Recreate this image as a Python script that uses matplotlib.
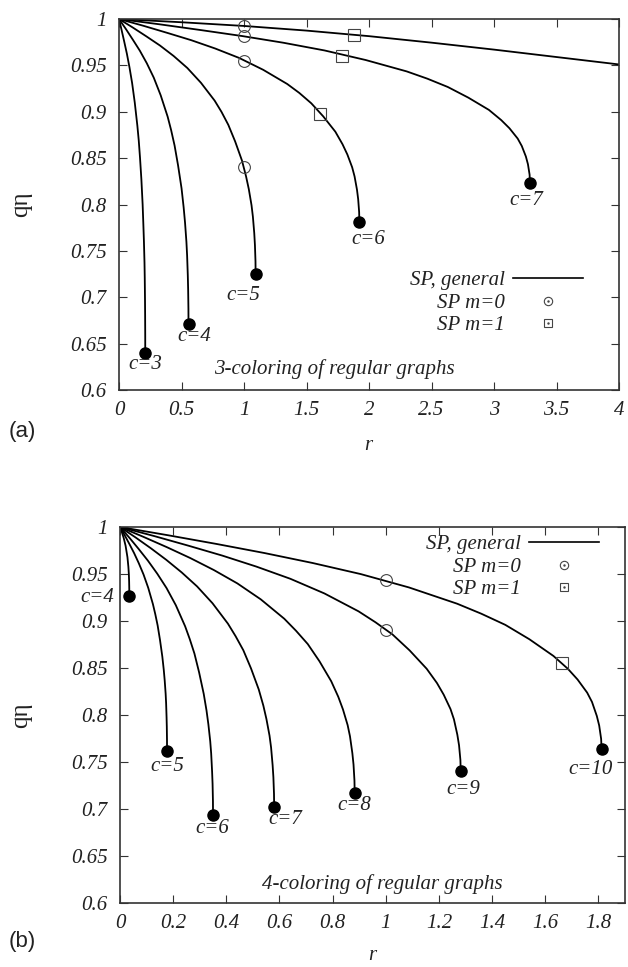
import matplotlib
matplotlib.use("Agg")
import matplotlib.pyplot as plt
from matplotlib.lines import Line2D
from matplotlib.ticker import FixedLocator, FuncFormatter

plt.rcParams['font.family'] = ['Liberation Serif', 'DejaVu Serif']
plt.rcParams['font.style'] = 'italic'

DPI = 100
PX = 72.0 / DPI  # points per pixel

# ---- (a) 3-coloring: SP curves eta(r) for each connectivity c ----
a_c = [3, 4, 5, 6, 7]
a_r = [
    [0, 0.021, 0.042, 0.063, 0.084, 0.105, 0.126, 0.147, 0.158, 0.168, 0.179, 0.189, 0.195, 0.1995,
     0.204, 0.206, 0.208, 0.209, 0.2098, 0.21],
    [0, 0.0556, 0.1112, 0.1668, 0.2224, 0.278, 0.3336, 0.3892, 0.417, 0.4448, 0.4726, 0.5004, 0.5171,
     0.5282, 0.5393, 0.5449, 0.5504, 0.5532, 0.5554, 0.556],
    [0, 0.1093, 0.2186, 0.3279, 0.4372, 0.5465, 0.6558, 0.7651, 0.8198, 0.8744, 0.9291, 0.9837, 1.0165,
     1.0384, 1.0602, 1.0711, 1.0821, 1.0875, 1.0919, 1.093],
    [0, 0.1923, 0.3846, 0.5769, 0.7692, 0.9615, 1.1538, 1.3461, 1.4423, 1.5384, 1.6346, 1.7307, 1.7884,
     1.8269, 1.8653, 1.8845, 1.9038, 1.9134, 1.9211, 1.923],
    [0, 0.3288, 0.6576, 0.9864, 1.3152, 1.644, 1.9728, 2.3016, 2.466, 2.6304, 2.7948, 2.9592, 3.0578,
     3.1236, 3.1894, 3.2222, 3.2551, 3.2716, 3.2847, 3.288],
]
a_eta = [
    [1, 0.988, 0.9755, 0.9626, 0.9478, 0.9309, 0.910, 0.8848, 0.869, 0.8506, 0.8272, 0.8002, 0.7779,
     0.7599, 0.7372, 0.721, 0.6976, 0.6807, 0.658, 0.640],
    [1, 0.9891, 0.9776, 0.9658, 0.9523, 0.9368, 0.9177, 0.8947, 0.8802, 0.8635, 0.8421, 0.8174, 0.797,
     0.7806, 0.7598, 0.745, 0.7236, 0.7082, 0.6874, 0.671],
    [1, 0.9909, 0.9813, 0.9714, 0.9601, 0.9472, 0.9312, 0.912, 0.8999, 0.8859, 0.868, 0.8474, 0.8303,
     0.8166, 0.7992, 0.7869, 0.769, 0.7561, 0.7387, 0.725],
    [1, 0.9928, 0.9851, 0.9772, 0.9682, 0.958, 0.9452, 0.9299, 0.9203, 0.9091, 0.8949, 0.8785, 0.8649,
     0.8539, 0.8401, 0.8303, 0.816, 0.8057, 0.7919, 0.781],
    [1, 0.9942, 0.988, 0.9816, 0.9744, 0.9661, 0.9558, 0.9435, 0.9357, 0.9267, 0.9152, 0.902, 0.891,
     0.8822, 0.8711, 0.8631, 0.8517, 0.8434, 0.8322, 0.8234],
]
# c=8 curve leaves the window before its end point
a_top_r = [0, 0.5, 1, 1.5, 2, 2.5, 3, 3.5, 4]
a_top_eta = [1, 0.9965, 0.9925, 0.9875, 0.9815, 0.9745, 0.967, 0.959, 0.951]
a_m0_r = [1, 1, 1, 1]
a_m0_eta = [0.9925, 0.9817, 0.9548, 0.840]
a_m1_r = [1.883, 1.787, 1.608]
a_m1_eta = [0.9828, 0.9605, 0.898]
a_label_off = [(0, 12), (6, 12), (-12, 21), (9, 17), (-4, 18)]  # pixels, down is positive

# ---- (b) 4-coloring ----
b_c = [4, 5, 6, 7, 8, 9, 10]
b_r = [
    [0, 0.007, 0.014, 0.021, 0.028, 0.0315, 0.0333, 0.0343, 0.0348, 0.035],
    [0, 0.0177, 0.0354, 0.0531, 0.0708, 0.0885, 0.1062, 0.1239, 0.1328, 0.1416, 0.1505, 0.1593, 0.1646,
     0.1682, 0.1717, 0.1735, 0.1752, 0.1761, 0.1768, 0.177],
    [0, 0.035, 0.07, 0.105, 0.14, 0.175, 0.21, 0.245, 0.2625, 0.28, 0.2975, 0.315, 0.3255, 0.3325,
     0.3395, 0.343, 0.3465, 0.3483, 0.3497, 0.35],
    [0, 0.058, 0.116, 0.174, 0.232, 0.29, 0.348, 0.406, 0.435, 0.464, 0.493, 0.522, 0.5394, 0.551,
     0.5626, 0.5684, 0.5742, 0.5771, 0.5794, 0.58],
    [0, 0.0883, 0.1766, 0.2649, 0.3532, 0.4415, 0.5298, 0.6181, 0.6623, 0.7064, 0.7506, 0.7947, 0.8212,
     0.8389, 0.8565, 0.8653, 0.8742, 0.8786, 0.8821, 0.883],
    [0, 0.1282, 0.2564, 0.3846, 0.5128, 0.641, 0.7692, 0.8974, 0.9615, 1.0256, 1.0897, 1.1538, 1.1923,
     1.2179, 1.2435, 1.2564, 1.2692, 1.2756, 1.2807, 1.282],
    [0, 0.1812, 0.3624, 0.5436, 0.7248, 0.906, 1.0872, 1.2684, 1.359, 1.4496, 1.5402, 1.6308, 1.6852,
     1.7214, 1.7576, 1.7758, 1.7939, 1.8029, 1.8102, 1.812],
]
b_eta = [
    [1, 0.9945, 0.9882, 0.9801, 0.9679, 0.9577, 0.9499, 0.9425, 0.9348, 0.927],
    [1, 0.9912, 0.9819, 0.9722, 0.9614, 0.9495, 0.9353, 0.9179, 0.9072, 0.8953, 0.8798, 0.862, 0.8482,
     0.8367, 0.8227, 0.8127, 0.7977, 0.7875, 0.7732, 0.762],
    [1, 0.9887, 0.9767, 0.9642, 0.9504, 0.9351, 0.9168, 0.8944, 0.8807, 0.8654, 0.8455, 0.8225, 0.8048,
     0.7901, 0.772, 0.7592, 0.7399, 0.7267, 0.7084, 0.694],
    [1, 0.989, 0.9774, 0.9651, 0.9517, 0.9368, 0.9189, 0.8972, 0.8838, 0.8689, 0.8495, 0.8272, 0.8099,
     0.7956, 0.778, 0.7655, 0.7467, 0.7339, 0.716, 0.702],
    [1, 0.9895, 0.9785, 0.9669, 0.9542, 0.94, 0.923, 0.9024, 0.8896, 0.8755, 0.8571, 0.8359, 0.8194,
     0.8059, 0.7892, 0.7773, 0.7594, 0.7473, 0.7303, 0.717],
    [1, 0.9904, 0.9802, 0.9696, 0.9579, 0.9449, 0.9293, 0.9103, 0.8986, 0.8856, 0.8687, 0.8492, 0.8341,
     0.8216, 0.8063, 0.7954, 0.779, 0.7678, 0.7522, 0.74],
    [1, 0.9912, 0.982, 0.9723, 0.9617, 0.9499, 0.9357, 0.9184, 0.9078, 0.8959, 0.8806, 0.8628, 0.8491,
     0.8378, 0.8238, 0.8139, 0.799, 0.7888, 0.7746, 0.7635],
]
b_m0_r = [1, 1]
b_m0_eta = [0.9436, 0.8904]
b_m1_r = [1.662]
b_m1_eta = [0.8556]
b_label_off = [(-32, 2), (0, 16), (-1, 14), (11, 12), (0, 12), (3, 18), (-11, 20)]

a_xticks = [0, 0.5, 1, 1.5, 2, 2.5, 3, 3.5, 4]
b_xticks = [0, 0.2, 0.4, 0.6, 0.8, 1, 1.2, 1.4, 1.6, 1.8]
yticks = [0.6, 0.65, 0.7, 0.75, 0.8, 0.85, 0.9, 0.95, 1]

FS = 15
EDGE = '#333333'
INK = '#222222'
MARK = '#444444'


def style_axes(ax, xticks, xmax):
    ax.set_xlim(0, xmax)
    ax.set_ylim(0.6, 1)
    ax.xaxis.set_major_locator(FixedLocator(xticks))
    ax.yaxis.set_major_locator(FixedLocator(yticks))
    fmt = FuncFormatter(lambda v, p: '%g' % v)
    ax.xaxis.set_major_formatter(fmt)
    ax.yaxis.set_major_formatter(fmt)
    ax.tick_params(direction='in', length=6, width=0.8, color=EDGE,
                   top=True, right=True, labelsize=FS, labelcolor=INK)
    ax.tick_params(axis='x', pad=8)
    ax.tick_params(axis='y', pad=9)
    for s in ax.spines.values():
        s.set_linewidth(1.2)
        s.set_color(EDGE)


def draw_panel(ax, cs, rs, etas, m0r, m0e, m1r, m1e, offs):
    for c, r, e, off in zip(cs, rs, etas, offs):
        ax.plot(r, e, color='black', lw=1.3, solid_joinstyle='round')
        ax.plot(r[-1], e[-1], 'o', color='black', ms=8)
        ax.annotate('c=%d' % c, (r[-1], e[-1]),
                    xytext=(off[0] * PX, -off[1] * PX), textcoords='offset points',
                    ha='center', va='center', fontsize=FS, color=INK)
    ax.plot(m0r, m0e, 'o', ls='none', ms=8.5, mfc='none', mec=MARK, mew=0.8)
    ax.plot(m1r, m1e, 's', ls='none', ms=8, mfc='none', mec=MARK, mew=0.8)


def add_legend(ax, anchor):
    h_line = Line2D([], [], color='black', lw=1.2)
    h_circ = (Line2D([], [], ls='none', marker='o', ms=6, mfc='none', mec=MARK, mew=0.8),
              Line2D([], [], ls='none', marker='.', ms=1.5, color=MARK))
    h_sq = (Line2D([], [], ls='none', marker='s', ms=6, mfc='none', mec=MARK, mew=0.8),
            Line2D([], [], ls='none', marker='.', ms=1.5, color=MARK))
    leg = ax.legend([h_line, h_circ, h_sq], ['SP, general', 'SP m=0', 'SP m=1'],
                    loc='upper right', bbox_to_anchor=anchor, frameon=False,
                    markerfirst=False, numpoints=1, fontsize=FS, handlelength=3.35,
                    handletextpad=0.38, labelspacing=0.14, borderpad=0, borderaxespad=0)
    for t in leg.get_texts():
        t.set_color(INK)


fig = plt.figure(figsize=(628 / DPI, 967 / DPI), dpi=DPI)
ax_a = fig.add_axes([119 / 628, (967 - 390) / 967, 500 / 628, 371 / 967])
ax_b = fig.add_axes([120 / 628, (967 - 903) / 967, 505 / 628, 376 / 967])

# panel (a)
style_axes(ax_a, a_xticks, 4)
ax_a.plot(a_top_r, a_top_eta, color='black', lw=1.3)
draw_panel(ax_a, a_c, a_r, a_eta, a_m0_r, a_m0_eta, a_m1_r, a_m1_eta, a_label_off)
add_legend(ax_a, (0.928, 0.321))
ax_a.text(0.43, 0.057, '3-coloring of regular graphs', transform=ax_a.transAxes,
          ha='center', va='center', fontsize=FS, color=INK)

# panel (b)
style_axes(ax_b, b_xticks, 1.9)
draw_panel(ax_b, b_c, b_r, b_eta, b_m0_r, b_m0_eta, b_m1_r, b_m1_eta, b_label_off)
add_legend(ax_b, (0.9485, 0.979))
ax_b.text(0.52, 0.05, '4-coloring of regular graphs', transform=ax_b.transAxes,
          ha='center', va='center', fontsize=FS, color=INK)

# axis titles and panel tags (pixel positions from the top-left corner)
for tag, ytag, ymid, xr, yr in [('(a)', 432, 204, 368, 446), ('(b)', 942, 715, 372, 956)]:
    fig.text(xr / 628, 1 - yr / 967, 'r', ha='center', va='center', fontsize=FS, color=INK)
    fig.text(21 / 628, 1 - ymid / 967, 'q\u03b7', rotation=90, ha='center', va='center',
             fontsize=18, fontstyle='normal', color=INK)
    fig.text(22 / 628, 1 - ytag / 967, tag, ha='center', va='center',
             fontsize=16, fontstyle='normal', family='Liberation Sans', color=INK)

fig.savefig('out.png', dpi=DPI)
